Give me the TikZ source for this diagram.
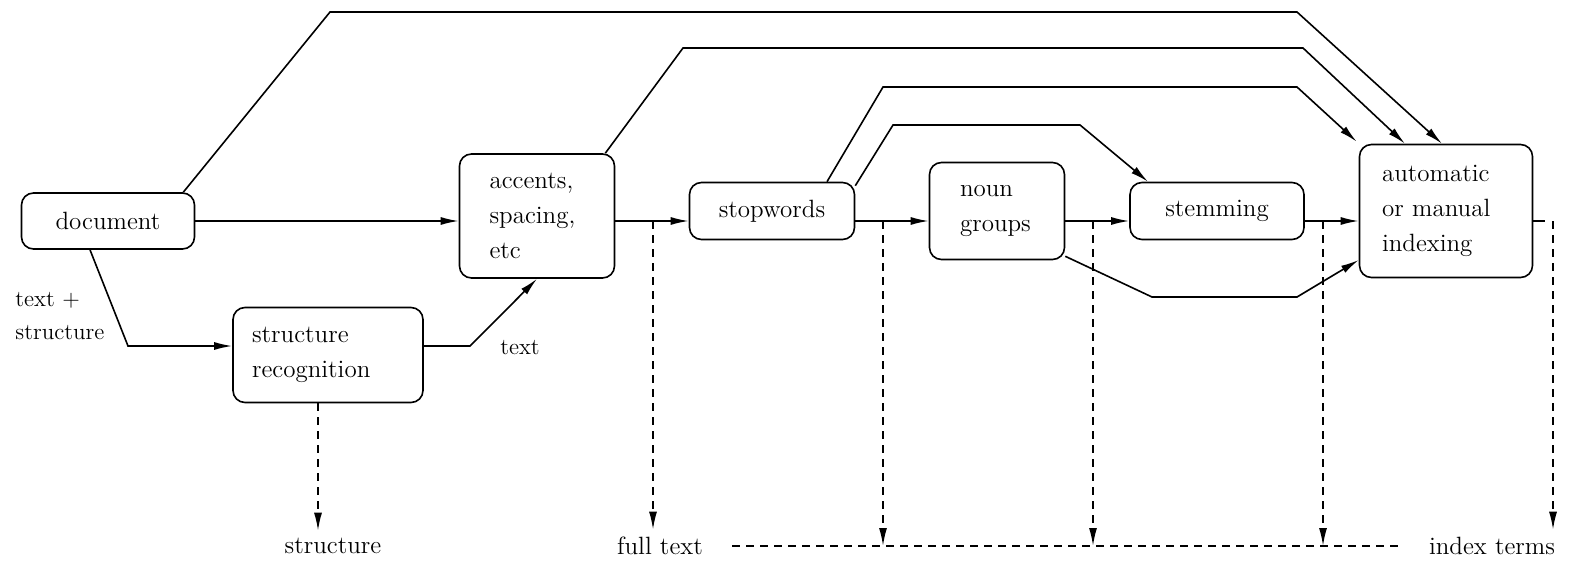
\documentclass[tikz,border=0pt]{standalone}
\usetikzlibrary{arrows.meta}
\begin{document}
\begin{tikzpicture}[x=0.5pt,y=-0.5pt,line width=0.8pt,
        every node/.style={font=\fontsize{12.5}{17.5}\selectfont},
        stage/.style={shape=rectangle,rounded corners=6pt,draw=black,inner sep=0pt},
        feed/.style={-{Latex[length=9pt,width=4pt]}},
        drop/.style={dash pattern=on 4pt off 3pt,-{Latex[length=9pt,width=4pt]}}]
        \useasboundingbox (0,0) rectangle (1594,568);

        \node[stage,minimum width=86.5pt,minimum height=28pt] (doc) at (108,221) {document};
        \node[stage,minimum width=95pt,minimum height=47.5pt,text width=76pt,align=left] (rec) at (328,355) {structure\\recognition};
        \node[stage,minimum width=77.5pt,minimum height=62pt,text width=47.5pt,align=left] (acc) at (537,216) {accents,\\spacing,\\etc};
        \node[stage,minimum width=82.5pt,minimum height=28.5pt] (stop) at (772,211) {stopwords};
        \node[stage,minimum width=67.5pt,minimum height=48.5pt,text width=37pt,align=left] (noun) at (997,211) {noun\\groups};
        \node[stage,minimum width=87pt,minimum height=28.5pt] (stem) at (1217,211) {stemming};
        \node[stage,minimum width=86.5pt,minimum height=66.5pt,text width=64pt,align=left] (idx) at (1446,211) {automatic\\or manual\\indexing};

        \node[align=left,anchor=west,font=\fontsize{11.5}{16.5}\selectfont] (mix) at (8,316) {text +\\structure};
        \node[font=\fontsize{11.5}{16.5}\selectfont] (txt) at (520,348) {text};
        \node (struct) at (333,546) {structure};
        \node (full) at (660,546) {full text};
        \node (terms) at (1492,546) {index terms};

        \coordinate (lvl) at (0,221);
        \coordinate (tapA) at (653,221);
        \coordinate (tapB) at (883,221);
        \coordinate (tapC) at (1093,221);
        \coordinate (tapD) at (1323,221);
        \coordinate (tapE) at (1553,221);

        % main flow
        \draw[feed] (doc.east |- lvl) -- (acc.west |- lvl);
        \draw[feed] (acc.east |- lvl) -- (stop.west |- lvl);
        \draw[feed] (stop.east |- lvl) -- (noun.west |- lvl);
        \draw[feed] (noun.east |- lvl) -- (stem.west |- lvl);
        \draw[feed] (stem.east |- lvl) -- (idx.west |- lvl);
        \draw (idx.east |- lvl) -- ++(12,0);

        \draw[feed] ([xshift=-9pt]doc.south) -- (128,346) -- ([yshift=4.5pt]rec.west);
        \draw[feed] ([yshift=4.5pt]rec.east) -- (470,346) -- (acc.south);

        % bypasses
        \draw[feed] ([xshift=-6pt]doc.north east) -- (330,12) -- (1297,12) -- ([xshift=-2pt]idx.north);
        \draw[feed] ([xshift=-5pt]acc.north east) -- (683,48) -- (1303,48) -- ([xshift=-20.5pt]idx.north);
        \draw[feed] ([xshift=27.5pt]stop.north) -- (883,87) -- (1297,87) -- ([xshift=-1pt,yshift=1pt]idx.north west);
        \draw[feed] ([yshift=-2pt]stop.north east) -- (893,125) -- (1080,125) -- ([xshift=-34.5pt]stem.north);
        \draw[feed] ([yshift=2pt]noun.south east) -- (1152,297) -- (1297,297) -- ([yshift=-24.5pt]idx.west);

        % outputs
        \draw[drop] ([xshift=-5pt]rec.south) -- ([xshift=-7.5pt]struct.north);
        \draw[drop] (tapA) -- (tapA |- full.north);
        \draw[drop] (tapB) -- (tapB |- full.east);
        \draw[drop] (tapC) -- (tapC |- full.east);
        \draw[drop] (tapD) -- (tapD |- full.east);
        \draw[drop] (tapE) -- (tapE |- terms.north);
        \draw[dash pattern=on 4pt off 3pt,shorten <=11pt,shorten >=11pt] (full.east) -- (terms.west);
    \end{tikzpicture}
\end{document}
